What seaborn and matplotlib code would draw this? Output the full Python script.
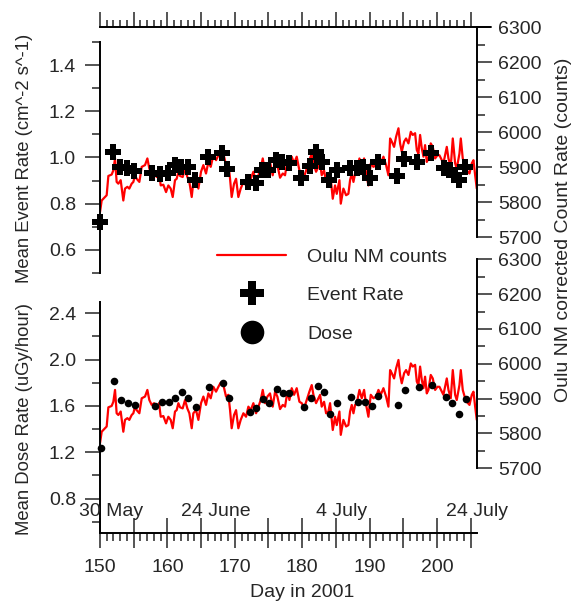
import matplotlib
matplotlib.use("Agg")
import matplotlib.pyplot as plt
import seaborn as sns
import numpy as np
import pandas as pd
from matplotlib.ticker import MultipleLocator, FuncFormatter, FormatStrFormatter
from matplotlib.lines import Line2D

# ---------------- data ----------------
nm_day = [150.00, 150.25, 150.74, 150.99, 151.24, 151.73, 151.98, 152.23, 152.47, 152.72,
          153.07, 153.46, 153.71, 154.06, 154.35, 154.70, 154.95, 155.20, 155.44, 155.84,
          156.19, 156.68, 157.03, 157.32, 157.67, 158.02, 158.41, 158.76, 159.01, 159.40,
          159.80, 160.14, 160.49, 160.79, 161.13, 161.38, 161.63, 161.88, 162.27, 162.62,
          162.96, 163.26, 163.61, 163.85, 164.25, 164.60, 164.99, 165.34, 165.73, 166.08,
          166.43, 166.82, 167.22, 167.57, 167.91, 168.31, 168.70, 169.05, 169.30, 169.54,
          169.89, 170.19, 170.53, 170.88, 171.28, 171.67, 172.02, 172.37, 172.76, 173.16,
          173.50, 173.85, 174.15, 174.49, 174.84, 175.23, 175.63, 175.98, 176.32, 176.72,
          177.12, 177.46, 177.81, 178.11, 178.45, 178.80, 179.19, 179.59, 179.94, 180.28,
          180.68, 181.07, 181.42, 181.67, 182.06, 182.41, 182.66, 182.90, 183.25, 183.55,
          183.89, 184.14, 184.54, 184.88, 185.13, 185.53, 185.73, 186.12, 186.52, 186.86,
          187.11, 187.36, 187.61, 187.85, 188.10, 188.50, 188.84, 189.19, 189.49, 189.83,
          190.18, 190.57, 190.97, 191.32, 191.66, 192.06, 192.45, 192.80, 193.05, 193.30,
          193.64, 193.94, 194.29, 194.53, 194.78, 195.13, 195.42, 195.77, 196.12, 196.41,
          196.76, 197.01, 197.25, 197.50, 197.75, 198.00, 198.24, 198.49, 198.74, 199.08,
          199.38, 199.73, 200.07, 200.37, 200.72, 200.96, 201.21, 201.46, 201.71, 202.05,
          202.35, 202.70, 202.94, 203.34, 203.54, 203.83, 204.18, 204.43, 204.83, 205.17,
          205.42, 205.67, 205.91]
nm_counts = [5772, 5805, 5815, 5820, 5875, 5879, 5891, 5925, 5858, 5853,
             5863, 5805, 5839, 5844, 5839, 5853, 5858, 5877, 5867, 5858,
             5901, 5906, 5925, 5896, 5882, 5887, 5872, 5887, 5848, 5850,
             5829, 5848, 5839, 5815, 5863, 5867, 5887, 5875, 5872, 5896,
             5872, 5858, 5815, 5858, 5867, 5839, 5887, 5906, 5882, 5915,
             5901, 5934, 5920, 5934, 5946, 5939, 5906, 5911, 5867, 5815,
             5853, 5867, 5815, 5839, 5858, 5848, 5877, 5867, 5887, 5858,
             5877, 5896, 5925, 5887, 5906, 5915, 5877, 5920, 5906, 5870,
             5882, 5877, 5920, 5896, 5930, 5911, 5930, 5891, 5887, 5872,
             5896, 5920, 5939, 5911, 5887, 5901, 5911, 5877, 5891, 5858,
             5863, 5887, 5810, 5848, 5824, 5863, 5796, 5839, 5820, 5824,
             5863, 5882, 5858, 5882, 5887, 5925, 5901, 5925, 5882, 5848,
             5911, 5901, 5906, 5925, 5911, 5930, 5906, 5877, 5982, 5973,
             5958, 5987, 6011, 5968, 5944, 5973, 5982, 5968, 6001, 5992,
             5997, 5949, 5939, 5992, 5954, 5930, 5963, 5915, 5925, 5968,
             5958, 5925, 5934, 5934, 5920, 5911, 5934, 5958, 5925, 5901,
             5982, 5911, 5896, 5939, 5982, 5925, 5901, 5891, 5882, 5911,
             5920, 5877, 5839]

ev_day = [150.0, 152.0, 153.0, 154.0, 155.0, 157.7, 158.9, 160.1, 161.1, 162.0,
          163.0, 164.1, 166.1, 168.1, 168.9, 172.0, 173.2, 174.0, 175.0, 176.1,
          177.0, 178.0, 179.9, 181.1, 182.1, 182.9, 184.0, 185.1, 187.1, 188.2,
          189.1, 190.1, 191.2, 194.0, 195.1, 197.1, 199.1, 201.0, 202.0, 202.5,
          203.2, 204.2]
ev_rate = [0.722, 1.022, 0.960, 0.953, 0.943, 0.931, 0.929, 0.931, 0.968, 0.960,
           0.960, 0.903, 1.004, 1.018, 0.949, 0.895, 0.891, 0.946, 0.946, 0.989,
           0.982, 0.975, 0.910, 0.965, 1.025, 0.982, 0.903, 0.946, 0.953, 0.953,
           0.960, 0.910, 0.982, 0.920, 0.992, 0.982, 1.018, 0.953, 0.946, 0.924,
           0.903, 0.960]

dose_day = [150.1, 152.1, 153.1, 154.2, 155.2, 158.2, 159.2, 160.3, 161.2, 162.2,
            163.1, 164.2, 166.2, 168.2, 169.2, 172.2, 173.2, 174.2, 175.1, 176.2,
            177.1, 178.1, 180.2, 181.3, 182.3, 183.3, 184.2, 185.2, 187.2, 188.3,
            189.3, 190.3, 191.3, 194.2, 195.3, 197.3, 199.3, 201.3, 202.3, 203.3,
            204.3]
dose_rate = [1.240, 1.818, 1.651, 1.628, 1.608, 1.600, 1.637, 1.631, 1.672, 1.721,
             1.672, 1.588, 1.761, 1.801, 1.672, 1.551, 1.579, 1.660, 1.623, 1.749,
             1.709, 1.715, 1.588, 1.672, 1.772, 1.721, 1.528, 1.623, 1.680, 1.637,
             1.637, 1.600, 1.689, 1.608, 1.741, 1.761, 1.781, 1.680, 1.628, 1.531,
             1.660]

date_labels = ["30 May", "24 June", "4 July", "24 July"]
date_label_pos = [151.6, 167.2, 185.9, 206.0]

legend_labels = ["Oulu NM counts", "Event Rate", "Dose"]

# ---------------- style ----------------
sns.set_style("ticks")
plt.rcParams["font.family"] = ["Liberation Sans", "DejaVu Sans"]
FS = 14
LFS = 13.3
SPW = 1.4
TW = 1.1
MAJ = 10.8
MIN = 5.8

W, H = 576, 604
fig = plt.figure(figsize=(W / 100, H / 100), dpi=100)


def rect(x0, y0, x1, y1):
    return [x0 / W, 1 - y1 / H, (x1 - x0) / W, (y1 - y0) / H]


XL = (150, 205.9)
ax1r = fig.add_axes(rect(100, 27, 476.7, 237.3))
ax1 = fig.add_axes(rect(100, 42, 476.7, 273))
ax2r = fig.add_axes(rect(100, 259.3, 476.7, 468.3))
ax2 = fig.add_axes(rect(100, 301.7, 476.7, 533.3))

nm_df = pd.DataFrame({"day": nm_day, "counts": nm_counts})
ev_df = pd.DataFrame({"day": ev_day, "rate": ev_rate})
dose_df = pd.DataFrame({"day": dose_day, "rate": dose_rate})

for ax in (ax1r, ax2r):
    sns.lineplot(data=nm_df, x="day", y="counts", ax=ax, color="#ff0000",
                 lw=1.6, estimator=None, sort=False)
sns.scatterplot(data=ev_df, x="day", y="rate", ax=ax1, marker="P", s=120,
                color="black", linewidth=0, clip_on=False, zorder=5)
sns.scatterplot(data=dose_df, x="day", y="rate", ax=ax2, marker="o", s=30,
                color="black", linewidth=0, clip_on=False, zorder=5)

for ax in (ax1r, ax1, ax2r, ax2):
    ax.set_xlim(*XL)
    ax.set_facecolor("none")
    ax.set_xlabel("")
    ax.set_ylabel("")
    for s in ax.spines.values():
        s.set_visible(False)
        s.set_linewidth(SPW)
        s.set_color("black")

# top-left: event rate
ax1.set_ylim(0.5, 1.5)
ax1.spines["left"].set_visible(True)
ax1.tick_params(axis="x", which="both", bottom=False, top=False,
                labelbottom=False, labeltop=False)
ax1.yaxis.set_major_locator(MultipleLocator(0.2))
ax1.yaxis.set_minor_locator(MultipleLocator(0.1))
ax1.yaxis.set_major_formatter(FormatStrFormatter("%.1f"))

# top-right: NM counts + top day axis
ax1r.set_ylim(5700, 6300)
ax1r.spines["right"].set_visible(True)
ax1r.spines["top"].set_visible(True)
ax1r.spines["top"].set_bounds(150, 207.9)
ax1r.yaxis.tick_right()
ax1r.xaxis.tick_top()
ax1r.yaxis.set_major_locator(MultipleLocator(100))
ax1r.yaxis.set_minor_locator(MultipleLocator(50))
ax1r.xaxis.set_major_locator(MultipleLocator(5))
ax1r.xaxis.set_minor_locator(MultipleLocator(1))
ax1r.tick_params(axis="x", which="both", labeltop=False, labelbottom=False,
                 bottom=False, top=True, direction="out")
ax1r.tick_params(axis="x", which="major", length=MAJ, width=TW)
ax1r.tick_params(axis="x", which="minor", length=5.2, width=TW)

# bottom-left: dose
ax2.set_ylim(0.5, 2.5)
ax2.spines["left"].set_visible(True)
ax2.spines["bottom"].set_visible(True)
ax2.yaxis.set_major_locator(MultipleLocator(0.4))
ax2.yaxis.set_minor_locator(MultipleLocator(0.2))
ax2.yaxis.set_major_formatter(FormatStrFormatter("%.1f"))
ax2.xaxis.set_major_locator(MultipleLocator(5))
ax2.xaxis.set_minor_locator(MultipleLocator(1))
ax2.xaxis.set_major_formatter(
    FuncFormatter(lambda v, p: f"{int(round(v))}" if int(round(v)) % 10 == 0 else ""))
ax2.tick_params(axis="x", which="major", direction="inout", length=2 * MAJ,
                width=TW, labelsize=FS, pad=8, top=False)
ax2.tick_params(axis="x", which="minor", direction="out", length=MIN, width=TW, top=False)

# bottom-right: NM counts
ax2r.set_ylim(5700, 6300)
ax2r.spines["right"].set_visible(True)
ax2r.yaxis.tick_right()
ax2r.yaxis.set_major_locator(MultipleLocator(100))
ax2r.yaxis.set_minor_locator(MultipleLocator(50))
ax2r.tick_params(axis="x", which="both", bottom=False, top=False,
                 labelbottom=False, labeltop=False)

for ax in (ax1, ax2):
    ax.tick_params(axis="y", which="major", direction="out", length=MAJ, width=TW,
                   labelsize=FS, pad=6.5, left=True, right=False)
    ax.tick_params(axis="y", which="minor", direction="out", length=MIN, width=TW,
                   left=True, right=False)
for ax in (ax1r, ax2r):
    ax.tick_params(axis="y", which="major", direction="out", length=MAJ, width=TW,
                   labelsize=FS, pad=4.5, left=False, right=True)
    ax.tick_params(axis="y", which="minor", direction="out", length=MIN, width=TW,
                   left=False, right=True)

# date labels inside the bottom panel
for lab, pos in zip(date_labels, date_label_pos):
    ax2.text(pos, 0.649, lab, ha="center", va="baseline", fontsize=FS, clip_on=False)

# axis titles
fig.text(25 / W, 1 - 158 / H, "Mean Event Rate (cm^-2 s^-1)", rotation=90,
         ha="center", va="center", fontsize=LFS)
fig.text(25 / W, 1 - 419 / H, "Mean Dose Rate (uGy/hour)", rotation=90,
         ha="center", va="center", fontsize=LFS)
fig.text(564 / W, 1 - 230 / H, "Oulu NM corrected Count Rate (counts)", rotation=90,
         ha="center", va="center", fontsize=FS)
fig.text(301.7 / W, 1 - 596.7 / H, "Day in 2001", ha="center", va="baseline",
         fontsize=FS)

# legend
handles = [Line2D([], [], color="#ff0000", lw=1.6),
           Line2D([], [], color="black", marker="P", ls="none", ms=17, mew=0),
           Line2D([], [], color="black", marker="o", ls="none", ms=17, mew=0)]
fig.legend(handles, legend_labels, loc="upper left",
           bbox_to_anchor=(217 / W, 1 - 248 / H), frameon=False, fontsize=FS,
           handlelength=3.56, handletextpad=1.08, labelspacing=1.08,
           borderpad=0, borderaxespad=0)

fig.savefig("out.png", dpi=100)
